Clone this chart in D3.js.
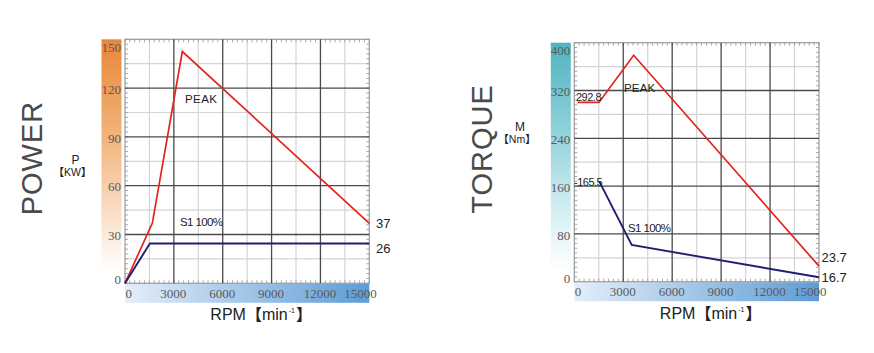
<!DOCTYPE html>
<html>
<head>
<meta charset="utf-8">
<script src="https://cdn.jsdelivr.net/npm/d3@7"></script>
<style>
  body { margin: 0; background: #fff; }
  svg { display: block; font-family: "Liberation Sans", Arial, sans-serif; }
  .serif { font-family: "Liberation Serif", "Times New Roman", serif; }
  .cjk { font-family: "Noto Sans CJK SC", sans-serif; font-weight: bold; }
</style>
</head>
<body>
<svg id="chart" width="874" height="353"></svg>
<script>
'use strict';

// shared x axis
const rpmTicks = [0, 3000, 6000, 9000, 12000, 15000];

// power chart (kW)
const powerTicks = [0, 30, 60, 90, 120, 150];
const powerPeak = [[0, 0], [1680, 37], [3520, 142.5], [15000, 36.9]];
const powerS1 = [[0, 0], [1530, 24.5], [15000, 24.5]];

// torque chart (Nm)
const torqueTicks = [0, 80, 160, 240, 320, 400];
const torquePeak = [[200, 300], [1510, 300], [3640, 379], [15000, 26]];
const torqueS1 = [[1530, 168], [3520, 61.5], [15000, 7.4]];

const svg = d3.select('#chart');
const defs = svg.append('defs');

function vGradient(id, stops) {
    const g = defs.append('linearGradient').attr('id', id)
        .attr('x1', 0).attr('y1', 0).attr('x2', 0).attr('y2', 1);
    stops.forEach(s => g.append('stop').attr('offset', s[0]).attr('stop-color', s[1]));
}
vGradient('gradPower', [[0, '#e8873a'], [0.35, '#f1ad72'], [0.7, '#f9dcc2'], [0.95, '#ffffff']]);
vGradient('gradTorque', [[0, '#4fb4c1'], [0.35, '#8ccfd8'], [0.7, '#d3eef1'], [0.95, '#ffffff']]);
const hg = defs.append('linearGradient').attr('id', 'gradRpm');
hg.append('stop').attr('offset', 0).attr('stop-color', '#e4eef9');
hg.append('stop').attr('offset', 1).attr('stop-color', '#5e9cd6');

function drawChart(cfg) {
    const x = d3.scaleLinear().domain([0, 15000]).range([cfg.left, cfg.right]);
    const y = d3.scaleLinear().domain([0, cfg.max]).range([cfg.bottom, cfg.top]);
    const g = svg.append('g');

    // coloured bars behind the axes
    g.append('rect')
        .attr('x', cfg.left - 23.5).attr('y', cfg.top)
        .attr('width', 20).attr('height', cfg.bottom - cfg.top)
        .attr('fill', `url(#${cfg.grad})`);
    g.append('rect')
        .attr('x', cfg.left).attr('y', cfg.bottom + 0.5)
        .attr('width', cfg.right - cfg.left).attr('height', 19)
        .attr('fill', 'url(#gradRpm)');

    // minor grid
    const minorX = d3.range(1500, 15000, 3000);
    const minorY = cfg.ticks.slice(0, -1).map(v => v + cfg.max / 10);
    g.selectAll('.mx').data(minorX).enter().append('line')
        .attr('x1', d => x(d)).attr('x2', d => x(d))
        .attr('y1', cfg.top).attr('y2', cfg.bottom)
        .attr('stroke', '#d4d4d4').attr('stroke-width', 1.2);
    g.selectAll('.my').data(minorY).enter().append('line')
        .attr('x1', cfg.left).attr('x2', cfg.right)
        .attr('y1', d => y(d)).attr('y2', d => y(d))
        .attr('stroke', '#d4d4d4').attr('stroke-width', 1.2);

    // small ticks along the frame
    const tx = d3.range(0, 15001, 300);
    const ty = d3.range(0, cfg.max + 0.01, cfg.max / 50);
    const ticks = g.append('g').attr('stroke', '#a8a8a8').attr('stroke-width', 1);
    tx.forEach(v => {
        ticks.append('line').attr('x1', x(v)).attr('x2', x(v)).attr('y1', cfg.top).attr('y2', cfg.top + 3);
        ticks.append('line').attr('x1', x(v)).attr('x2', x(v)).attr('y1', cfg.bottom).attr('y2', cfg.bottom - 3);
    });
    ty.forEach(v => {
        ticks.append('line').attr('x1', cfg.left).attr('x2', cfg.left + 3).attr('y1', y(v)).attr('y2', y(v));
        ticks.append('line').attr('x1', cfg.right).attr('x2', cfg.right - 3).attr('y1', y(v)).attr('y2', y(v));
    });

    // frame
    g.append('rect')
        .attr('x', cfg.left).attr('y', cfg.top)
        .attr('width', cfg.right - cfg.left).attr('height', cfg.bottom - cfg.top)
        .attr('fill', 'none').attr('stroke', '#9a9a9a').attr('stroke-width', 1.2);

    // major grid
    g.selectAll('.gx').data(rpmTicks.slice(1, -1)).enter().append('line')
        .attr('x1', d => x(d)).attr('x2', d => x(d))
        .attr('y1', cfg.top).attr('y2', cfg.bottom)
        .attr('stroke', '#4a4a4a').attr('stroke-width', 1.3);
    g.selectAll('.gy').data(cfg.ticks.slice(1, -1)).enter().append('line')
        .attr('x1', cfg.left).attr('x2', cfg.right)
        .attr('y1', d => y(d)).attr('y2', d => y(d))
        .attr('stroke', '#4a4a4a').attr('stroke-width', 1.3);

    // axis labels (serif, like the original)
    const yAxis = g.append('g')
        .attr('transform', `translate(${cfg.left - 4},0)`)
        .call(d3.axisLeft(y).tickValues(cfg.ticks).tickFormat(d3.format('d')).tickSize(0).tickPadding(0));
    yAxis.attr('font-family', null).attr('font-size', null);
    yAxis.select('.domain').remove();
    yAxis.selectAll('text')
        .attr('class', 'serif')
        .style('font-size', '13px').attr('fill', '#5a5a5a')
        .attr('dy', d => d === cfg.max ? '0.9em' : d === 0 ? '0.05em' : '0.4em');

    const xAxis = g.append('g')
        .attr('transform', `translate(0,${cfg.bottom + 5})`)
        .call(d3.axisBottom(x).tickValues(rpmTicks).tickFormat(d3.format('d')).tickSize(0).tickPadding(0));
    xAxis.attr('font-family', null).attr('font-size', null);
    xAxis.select('.domain').remove();
    xAxis.selectAll('text')
        .attr('class', 'serif')
        .style('font-size', '13px').attr('fill', '#5a5a5a')
        .attr('dy', '0.72em')
        .attr('text-anchor', d => d === 0 ? 'start' : d === 15000 ? 'end' : 'middle')
        .attr('x', d => d === 15000 ? 7 : d === 0 ? 0 : -1);

    // curves
    const line = d3.line().x(d => x(d[0])).y(d => y(d[1]));
    g.append('path').datum(cfg.peak).attr('d', line)
        .attr('fill', 'none').attr('stroke', '#e3231c').attr('stroke-width', 1.7);
    g.append('path').datum(cfg.s1).attr('d', line)
        .attr('fill', 'none').attr('stroke', '#1f1f72').attr('stroke-width', 1.9);

    // text labels
    cfg.labels.forEach(l => {
        g.append('text')
            .attr('x', l.x).attr('y', l.y)
            .attr('font-size', l.size).attr('fill', l.color || '#222')
            .attr('letter-spacing', l.ls || 0)
            .text(l.text);
    });

    // big rotated title
    g.append('text')
        .attr('transform', `translate(${cfg.titleX},${cfg.titleY}) rotate(-90)`)
        .attr('text-anchor', 'middle')
        .attr('font-size', 29).attr('fill', '#4a4a4a')
        .attr('letter-spacing', 1)
        .text(cfg.title);

    // unit
    g.append('text').attr('x', cfg.unitX).attr('y', cfg.unitY)
        .attr('text-anchor', 'middle').attr('font-size', 12).attr('fill', '#222')
        .text(cfg.sym);
    g.append('text').attr('x', cfg.unitX).attr('y', cfg.unitY + 12.5)
        .attr('text-anchor', 'middle').attr('font-size', 10.5).attr('fill', '#222')
        .call(t => {
            t.append('tspan').attr('class', 'cjk').attr('dx', -3).text('【');
            t.append('tspan').text(cfg.unit);
            t.append('tspan').attr('class', 'cjk').text('】');
        });

    // RPM caption
    const cap = g.append('text')
        .attr('x', (cfg.left + cfg.right) / 2 + 14).attr('y', cfg.bottom + 37)
        .attr('text-anchor', 'middle').attr('font-size', 16).attr('fill', '#222');
    cap.append('tspan').text('RPM');
    cap.append('tspan').attr('class', 'cjk').text('【');
    cap.append('tspan').text('min');
    cap.append('tspan').attr('font-size', 7).attr('dy', -7).attr('dx', 1).text('-1');
    cap.append('tspan').attr('class', 'cjk').attr('dy', 7).attr('dx', 1).text('】');
}

drawChart({
    left: 125, right: 369.3, top: 39.3, bottom: 283.3, max: 150,
    ticks: powerTicks, peak: powerPeak, s1: powerS1, grad: 'gradPower',
    title: 'POWER', titleX: 41.5, titleY: 158,
    sym: 'P', unit: 'KW', unitX: 75.5, unitY: 163.5,
    labels: [
        { text: 'PEAK', x: 185, y: 103, size: 11.5, ls: 0.4 },
        { text: 'S1 100%', x: 180, y: 225.5, size: 11.5, ls: -0.6 },
        { text: '37', x: 376, y: 227.5, size: 13 },
        { text: '26', x: 376, y: 253, size: 13 }
    ]
});

drawChart({
    left: 574.3, right: 819, top: 42.7, bottom: 281.7, max: 400,
    ticks: torqueTicks, peak: torquePeak, s1: torqueS1, grad: 'gradTorque',
    title: 'TORQUE', titleX: 491.5, titleY: 149,
    sym: 'M', unit: 'Nm', unitX: 520, unitY: 130.5,
    labels: [
        { text: 'PEAK', x: 624, y: 91.5, size: 11.5, ls: 0.2 },
        { text: 'S1 100%', x: 628, y: 231.5, size: 11.5, ls: -0.6 },
        { text: '292.8', x: 576, y: 100.5, size: 11, ls: -0.5 },
        { text: '-165.5', x: 574, y: 185.5, size: 11, ls: -0.5 },
        { text: '23.7', x: 821.5, y: 261.5, size: 13 },
        { text: '16.7', x: 821.5, y: 282, size: 13 }
    ]
});
</script>
</body>
</html>
